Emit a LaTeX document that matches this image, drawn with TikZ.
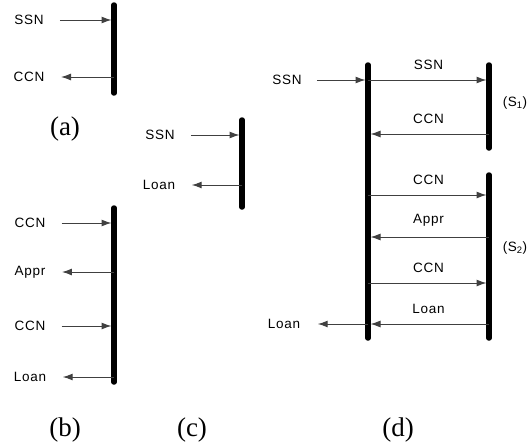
\documentclass[tikz,border=0pt]{standalone}
\usepackage{fontspec}
\setmainfont{Liberation Serif}
\setsansfont{Liberation Sans}[LetterSpace=5]
\usetikzlibrary{arrows.meta}
\begin{document}
\begin{tikzpicture}[x=1pt, y=-1pt,
  bar/.style={line width=5.5pt, line cap=round},
  msg/.style={draw=black!75, line width=1pt, shorten >=2.5pt, -{Latex[length=10pt,width=7pt]}},
  lbl/.style={font=\sffamily\fontsize{13.5}{15}\selectfont, inner sep=0pt},
  tag/.style={font=\fontsize{27}{30}\selectfont, inner sep=0pt}]
  \useasboundingbox (0,0) rectangle (529,447);
  % (a)
  \draw[bar] (114,5) -- (114,93);
  \coordinate (a1) at (114,20);
  \coordinate (a2) at (114,77);
  \node[lbl] (ssnA) at (29,20) {SSN};
  \node[lbl] (ccnA) at (29,77) {CCN};
  \draw[msg] ([xshift=16pt]ssnA.east) -- (a1);
  \draw[msg] (a2) -- ([xshift=14pt]ccnA.east);
  \node[tag] (capA) at (65,129) {(a)};
  % (b)
  \draw[bar] (114,208) -- (114,382);
  \coordinate (b1) at (114,223);
  \coordinate (b2) at (114,272);
  \coordinate (b3) at (114,326);
  \coordinate (b4) at (114,377);
  \node[lbl] (ccnB) at (30,223) {CCN};
  \node[lbl] (aprB) at (30,272) {Appr};
  \node[lbl] (ccnBB) at (30,326) {CCN};
  \node[lbl] (loanB) at (30,377) {Loan};
  \draw[msg] ([xshift=16pt]ccnB.east) -- (b1);
  \draw[msg] (b2) -- ([xshift=14pt]aprB.east);
  \draw[msg] ([xshift=16pt]ccnBB.east) -- (b3);
  \draw[msg] (b4) -- ([xshift=14pt]loanB.east);
  \node[tag] (capB) at (65,430) {(b)};
  % (c)
  \draw[bar] (242,120) -- (242,207);
  \coordinate (c1) at (242,135);
  \coordinate (c2) at (242,185);
  \node[lbl] (ssnC) at (160,135) {SSN};
  \node[lbl] (loanC) at (159,185) {Loan};
  \draw[msg] ([xshift=16pt]ssnC.east) -- (c1);
  \draw[msg] (c2) -- ([xshift=14pt]loanC.east);
  \node[tag] (capC) at (192,430) {(c)};
  % (d)
  \draw[bar] (368,65) -- (368,338);
  \draw[bar] (489,65) -- (489,148);
  \draw[bar] (489,175) -- (489,338);
  \coordinate (m1) at (368,80);  \coordinate (s1) at (489,80);
  \coordinate (m2) at (368,134); \coordinate (s2) at (489,134);
  \coordinate (m3) at (368,195); \coordinate (s3) at (489,195);
  \coordinate (m4) at (368,237); \coordinate (s4) at (489,237);
  \coordinate (m5) at (368,283); \coordinate (s5) at (489,283);
  \coordinate (m6) at (368,324); \coordinate (s6) at (489,324);
  \node[lbl] (ssnD) at (287,80) {SSN};
  \node[lbl] (loanD) at (284,324) {Loan};
  \draw[msg] ([xshift=15pt]ssnD.east) -- (m1);
  \draw[msg] (m6) -- ([xshift=15pt]loanD.east);
  \draw[msg] (m1) -- node[lbl, above=10pt] (ssnM) {SSN} (s1);
  \draw[msg] (s2) -- node[lbl, above=10pt] (ccnM) {CCN} (m2);
  \draw[msg] (m3) -- node[lbl, above=10pt] (ccnN) {CCN} (s3);
  \draw[msg] (s4) -- node[lbl, above=10pt] (aprM) {Appr} (m4);
  \draw[msg] (m5) -- node[lbl, above=10pt] (ccnO) {CCN} (s5);
  \draw[msg] (s6) -- node[lbl, above=10pt] (loanM) {Loan} (m6);
  \node[lbl] (sOne) at (515,103) {(S\textsubscript{1})};
  \node[lbl] (sTwo) at (515,248) {(S\textsubscript{2})};
  \node[tag] (capD) at (398,430) {(d)};
\end{tikzpicture}
\end{document}
